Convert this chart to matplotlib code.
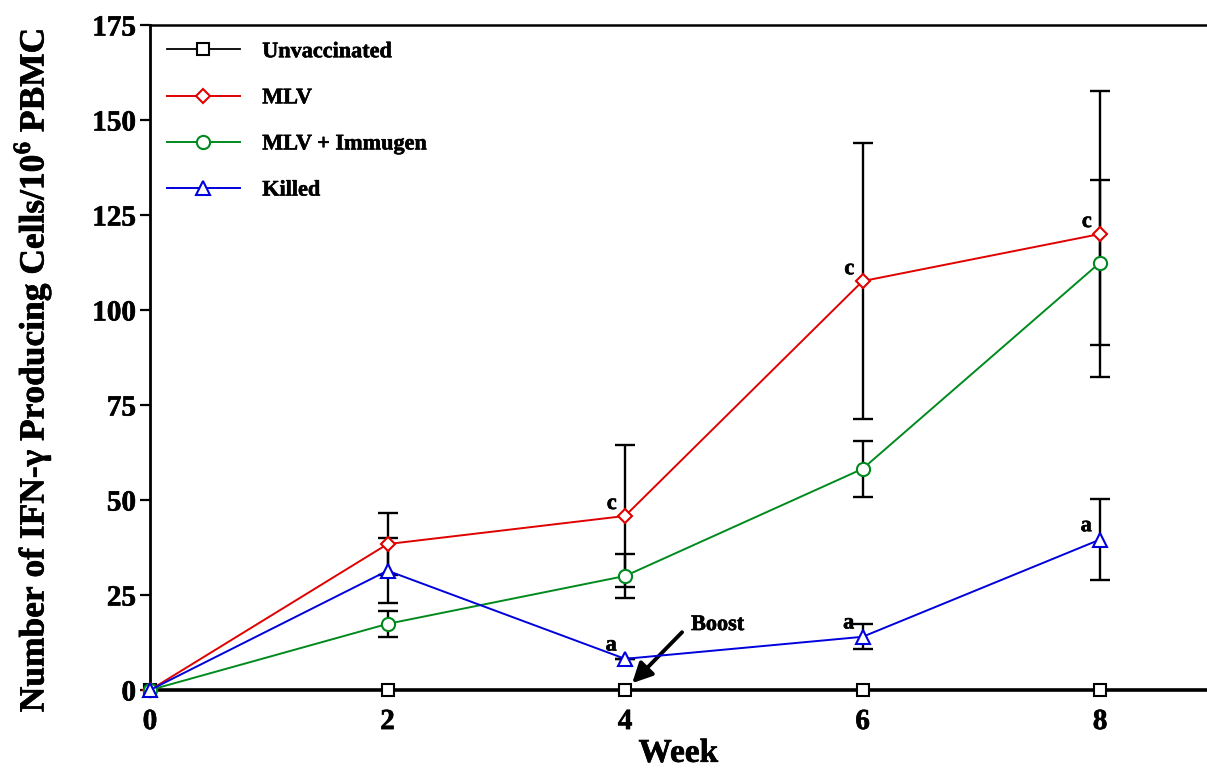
import matplotlib
matplotlib.use('Agg')
import matplotlib.pyplot as plt
import matplotlib.patheffects as pe

plt.rcParams['font.family'] = ['Liberation Serif', 'DejaVu Serif']
plt.rcParams['font.weight'] = 'bold'
plt.rcParams['mathtext.fontset'] = 'custom'
plt.rcParams['mathtext.rm'] = 'Liberation Serif:bold'
plt.rcParams['mathtext.bf'] = 'Liberation Serif:bold'

weeks = [0, 2, 4, 6, 8]

unvacc = [0, 0, 0, 0, 0]
mlv = [0, 38.4, 45.8, 107.6, 120.0]
mlv_err = [0, 8.2, 18.7, 36.4, 37.7]
immugen = [0, 17.4, 30.0, 58.2, 112.5]
immugen_err = [0, 3.4, 5.9, 7.3, 21.7]
killed = [0, 31.4, 8.2, 14.0, 39.6]
killed_err = [0, 8.5, 0, 3.3, 10.6]

mlv_marks = ['', '', 'c', 'c', 'c']
killed_marks = ['', '', 'a', 'a', 'a']

heavy = [pe.withStroke(linewidth=0.45, foreground='k')]

fig = plt.figure(figsize=(12.07, 7.69), dpi=100)
ax = fig.add_axes([150 / 1207, 79 / 769, 1057 / 1207, 665 / 769])

eb = dict(fmt='none', ecolor='k', elinewidth=1.7, capsize=7, capthick=1.7, zorder=2)
ax.errorbar(weeks[1:], mlv[1:], yerr=mlv_err[1:], **eb)
ax.errorbar(weeks[1:], immugen[1:], yerr=immugen_err[1:], **eb)
ax.errorbar(weeks[1:], killed[1:], yerr=killed_err[1:], **eb)

mk = dict(markerfacecolor='white', markeredgewidth=1.5, clip_on=False, zorder=4)
ax.plot(weeks, unvacc, color='k', lw=1.3, marker='s', ms=9, label='Unvaccinated', **mk)
ax.plot(weeks, mlv, color='#e00000', lw=1.4, marker='D', ms=7.5, label='MLV', **mk)
ax.plot(weeks, immugen, color='#008a1e', lw=1.4, marker='o', ms=9.5, label='MLV + Immugen', **mk)
ax.plot(weeks, killed, color='#0000dd', lw=1.4, marker='^', ms=9.5, label='Killed', **mk)

for x, y, s in zip(weeks, mlv, mlv_marks):
    if s:
        ax.annotate(s, (x, y), xytext=(-6, 5), textcoords='offset points',
                    ha='right', va='baseline', fontsize=16, fontweight='bold',
                    path_effects=heavy)
for x, y, s in zip(weeks, killed, killed_marks):
    if s:
        ax.annotate(s, (x, y), xytext=(-6, 6), textcoords='offset points',
                    ha='right', va='baseline', fontsize=16, fontweight='bold',
                    path_effects=heavy)

# boost arrow and its label
ax.annotate('', xy=(4.06, 1.8), xytext=(4.48, 15.2),
            arrowprops=dict(arrowstyle='-|>', color='k', lw=2.8, mutation_scale=30,
                            shrinkA=0, shrinkB=0))
ax.text(4.78, 17.1, 'Boost', ha='center', va='center', fontsize=16,
        fontweight='bold', path_effects=heavy)

ax.set_xlim(0, 8.9)
ax.set_ylim(0, 175)
ax.set_xticks(weeks)
ax.set_yticks(range(0, 176, 25))
ax.tick_params(axis='both', labelsize=21, direction='out')
ax.tick_params(axis='y', length=7, width=1.6, pad=3)
ax.tick_params(axis='x', length=5, width=1.6, pad=8)
for lab in ax.get_xticklabels() + ax.get_yticklabels():
    lab.set_fontweight('bold')
    lab.set_path_effects(heavy)

ax.spines['right'].set_visible(False)
ax.spines['left'].set_linewidth(2)
ax.spines['bottom'].set_linewidth(2.6)
ax.spines['top'].set_linewidth(1.8)

ax.set_xlabel('Week', fontsize=24, fontweight='bold', labelpad=2,
              path_effects=heavy)
ax.set_ylabel('Number of IFN-\u03b3 Producing Cells/10$^{\\mathbf{6}}$ PBMC',
              fontsize=25.5, fontweight='bold', path_effects=heavy)
ax.yaxis.set_label_coords(-0.091, 0.48)

leg = ax.legend(loc='upper left', bbox_to_anchor=(0.0, 1.0), frameon=False,
                fontsize=16, handlelength=3.3, handletextpad=1.0,
                labelspacing=1.15, borderaxespad=0.35, markerscale=1.0)
for t in leg.get_texts():
    t.set_fontweight('bold')
    t.set_path_effects([pe.withStroke(linewidth=0.4, foreground='k')])

fig.savefig('out.png', dpi=100)
